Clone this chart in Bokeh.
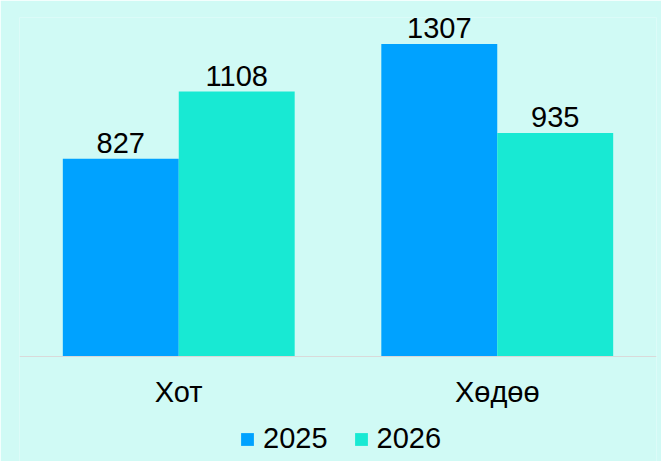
from bokeh.plotting import figure
from bokeh.models import ColumnDataSource, FactorRange, Range1d, Legend, LegendItem
from bokeh.transform import dodge
from bokeh.core.properties import value
from bokeh.embed import file_html
from bokeh.resources import INLINE

categories = ["Хот", "Хөдөө"]
series_names = ["2025", "2026"]
values_2025 = [827, 1307]
values_2026 = [1108, 935]

BG = "#d0faf5"
C1 = "#00a2ff"
C2 = "#18e9d3"
FONT = "Liberation Sans"

src = ColumnDataSource(dict(
    cat=categories,
    v1=values_2025,
    v2=values_2026,
    t1=[str(v) for v in values_2025],
    t2=[str(v) for v in values_2026],
))

p = figure(x_range=FactorRange(*categories, range_padding=0),
           y_range=Range1d(-439, 1418),
           frame_width=637, frame_height=444,
           min_border_left=19, min_border_right=5, min_border_top=17, min_border_bottom=0,
           output_backend="svg", toolbar_location=None,
           background_fill_color=BG, border_fill_color=BG, outline_line_color=None)

w = 0.364
r1 = p.vbar(x=dodge("cat", -w / 2, range=p.x_range), top="v1", bottom=0, width=w, source=src,
            fill_color=C1, line_color=None)
r2 = p.vbar(x=dodge("cat", w / 2, range=p.x_range), top="v2", bottom=0, width=w, source=src,
            fill_color=C2, line_color=None)

for col, vcol, off in (("t1", "v1", -w / 2), ("t2", "v2", w / 2)):
    p.text(x=dodge("cat", off, range=p.x_range), y=vcol, text=col, source=src,
           text_align="center", text_baseline="bottom", y_offset=-6,
           text_font=value(FONT), text_font_size="29px", text_color="#000000")

p.xgrid.visible = False
p.ygrid.visible = False
p.yaxis.visible = False
ax = p.xaxis[0]
ax.fixed_location = 0
ax.axis_line_color = "#d9d9d9"
ax.axis_line_width = 1
ax.major_tick_line_color = None
ax.minor_tick_line_color = None
ax.major_tick_out = 0
ax.major_label_standoff = 19
ax.major_label_text_font = FONT
ax.major_label_text_font_size = "29px"
ax.major_label_text_color = "#000000"

legend = Legend(items=[LegendItem(label=series_names[0], renderers=[r1]),
                       LegendItem(label=series_names[1], renderers=[r2])],
                orientation="horizontal", location=(220, 6),
                glyph_width=16, glyph_height=16, label_standoff=8, spacing=25,
                label_text_font=FONT, label_text_font_size="29px", label_text_color="#000000",
                background_fill_alpha=0, border_line_color=None, margin=0, padding=0)
p.add_layout(legend, "center")

open("out.html", "w").write(file_html(p, INLINE))
